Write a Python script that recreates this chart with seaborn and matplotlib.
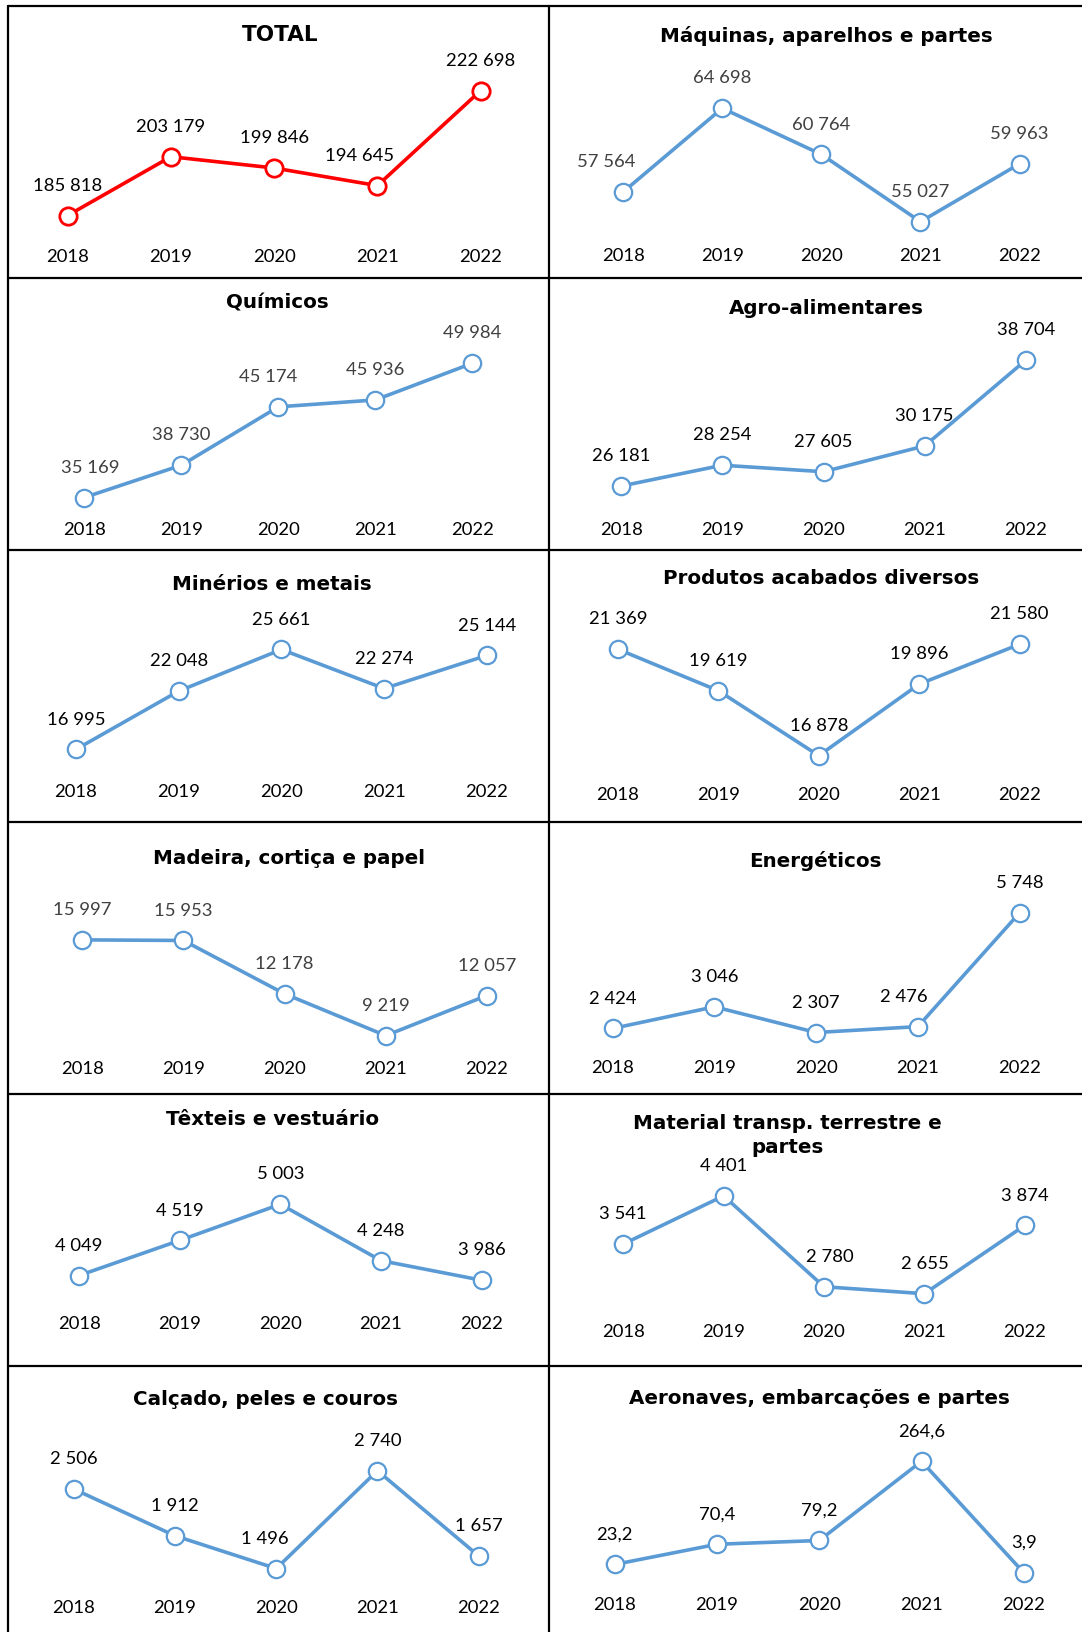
import matplotlib
matplotlib.use('Agg')
import matplotlib.pyplot as plt
import matplotlib.transforms as mtrans
from matplotlib.lines import Line2D
import pandas as pd
import seaborn as sns

# ---------------- data ----------------
years = ['2018', '2019', '2020', '2021', '2022']

total = [185818, 203179, 199846, 194645, 222698]
maquinas = [57564, 64698, 60764, 55027, 59963]
quimicos = [35169, 38730, 45174, 45936, 49984]
agro = [26181, 28254, 27605, 30175, 38704]
minerios = [16995, 22048, 25661, 22274, 25144]
produtos = [21369, 19619, 16878, 19896, 21580]
madeira = [15997, 15953, 12178, 9219, 12057]
energeticos = [2424, 3046, 2307, 2476, 5748]
texteis = [4049, 4519, 5003, 4248, 3986]
material = [3541, 4401, 2780, 2655, 3874]
calcado = [2506, 1912, 1496, 2740, 1657]
aeronaves = [23.2, 70.4, 79.2, 264.6, 3.9]

titles = ['TOTAL', 'Máquinas, aparelhos e partes', 'Químicos', 'Agro-alimentares',
          'Minérios e metais', 'Produtos acabados diversos', 'Madeira, cortiça e papel',
          'Energéticos', 'Têxteis e vestuário', 'Material transp. terrestre e\npartes',
          'Calçado, peles e couros', 'Aeronaves, embarcações e partes']
series = [total, maquinas, quimicos, agro, minerios, produtos, madeira,
          energeticos, texteis, material, calcado, aeronaves]
decimals = [False] * 11 + [True]

# ---------------- style / layout ----------------
sns.set_theme(style='white')
plt.rcParams['font.family'] = ['Lato', 'DejaVu Sans']

RED = '#FF0000'
BLUE = '#5B9BD5'
GRAY = '#404040'

W, H = 1040.0, 1568.0  # layout reference units
rows = [(6, 267), (267, 528), (528, 790), (790, 1051), (1051, 1312), (1312, 1568)]
cols = [(8, 528), (528, 1040)]

ylims = [(167400, 247600), (50236, 73393), (29427, 59402), (19868, 46880),
         (10676, 34327), (14066, 25579), (5093, 24322), (542, 8352),
         (2844, 6480), (1373, 6221), (689, 4077), (-135.0, 488.7)]
xlims = [(-0.574, 4.665), (-0.745, 4.630), (-0.783, 4.793), (-0.710, 4.555),
         (-0.658, 4.608), (-0.684, 4.622), (-0.730, 4.617), (-0.624, 4.614),
         (-0.703, 4.672), (-0.736, 4.570), (-0.648, 4.699), (-0.641, 4.570)]
title_pos = [(0.502, 0.894), (0.520, 0.890), (0.498, 0.909), (0.520, 0.886),
             (0.487, 0.871), (0.510, 0.894), (0.519, 0.867), (0.500, 0.859),
             (0.488, 0.905), (0.447, 0.846), (0.475, 0.872), (0.508, 0.876)]
year_y = [0.076, 0.080, 0.072, 0.072, 0.110, 0.099, 0.092, 0.095,
          0.153, 0.122, 0.090, 0.101]
label_colors = ['black', GRAY, GRAY, 'black', 'black', 'black', GRAY,
                'black', 'black', 'black', 'black', 'black']
label_dx = [[0, 0, 0, -13, 0], [-12, 0, 0, 0, 0], [4, 0, -7, 0, 0], [0, 0, 0, 0, 0],
            [0, 0, 0, 0, 0], [0, 0, 0, 0, 0], [0, 0, 0, 0, 0], [0, 0, 0, -10, 0],
            [0, 0, 0, 0, 0], [0, 0, 4, 0, 0], [0, 0, -8, 0, 0], [0, 0, 0, 0, 0]]

fig = plt.figure(figsize=(10.82, 16.32), dpi=100)
fig.patch.set_facecolor('white')


def fmt(v, dec):
    if dec:
        return f'{v:.1f}'.replace('.', ',')
    return f'{int(v):,}'.replace(',', ' ')


for k, (title, vals) in enumerate(zip(titles, series)):
    r, c = divmod(k, 2)
    top, bot = rows[r]
    left, right = cols[c]
    ax = fig.add_axes([left / W, 1 - bot / H, (right - left) / W, (bot - top) / H])
    color = RED if k == 0 else BLUE
    df = pd.DataFrame({'x': list(range(len(years))), 'y': vals})
    sns.lineplot(data=df, x='x', y='y', ax=ax, color=color, linewidth=2.6,
                 marker='o', markersize=12.5, markerfacecolor='white',
                 markeredgecolor=color, markeredgewidth=2.0 if k == 0 else 1.6,
                 legend=False)
    ax.set_xlim(*xlims[k])
    ax.set_ylim(*ylims[k])
    ax.axis('off')

    for i, v in enumerate(vals):
        ax.annotate(fmt(v, decimals[k]), xy=(i, v), xytext=(label_dx[k][i], 21.5),
                    textcoords='offset points', ha='center', va='center',
                    fontsize=13.3, color=label_colors[k], annotation_clip=False)

    trans = mtrans.blended_transform_factory(ax.transData, ax.transAxes)
    for i, yr in enumerate(years):
        ax.text(i, year_y[k], yr, transform=trans, ha='center', va='center',
                fontsize=13.3, color='black')

    tx, ty = title_pos[k]
    ax.text(tx, ty, title, transform=ax.transAxes, ha='center', va='center',
            fontsize=15.5 if k == 0 else 14.3, fontweight='bold',
            family=['DejaVu Sans'], color='black', linespacing=1.35)

# cell borders
for y in [6, 267, 528, 790, 1051, 1312]:
    fig.add_artist(Line2D([8 / W, 1.0], [1 - y / H, 1 - y / H], color='black',
                          linewidth=1.6, transform=fig.transFigure))
for x in [8, 528]:
    fig.add_artist(Line2D([x / W, x / W], [1 - 6 / H, 0.0], color='black',
                          linewidth=1.6, transform=fig.transFigure))

fig.savefig('out.png', dpi=100, facecolor='white')
